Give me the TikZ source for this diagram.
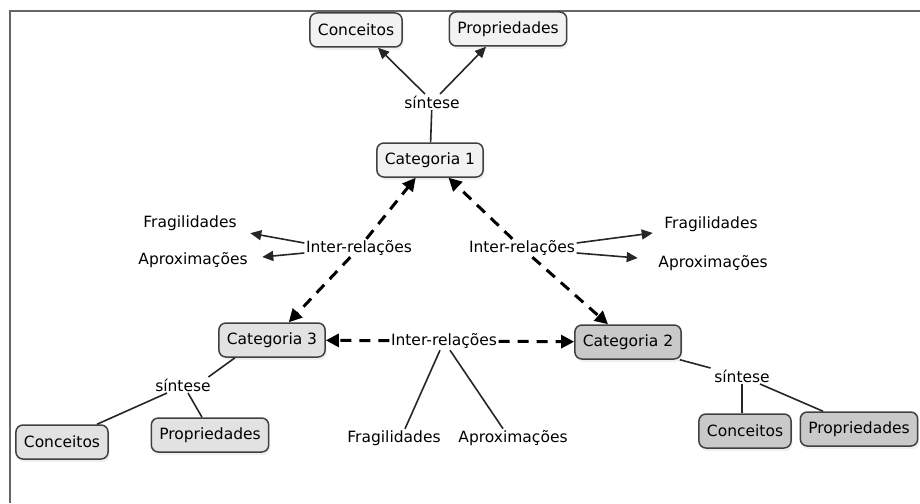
\documentclass[tikz,border=0pt]{standalone}
\usepackage{fontspec}
\setmainfont{DejaVu Sans}
\usetikzlibrary{arrows.meta,shadows}
\definecolor{fillA}{HTML}{F2F2F2}
\definecolor{fillB}{HTML}{E2E2E2}
\definecolor{fillC}{HTML}{C9C9C9}
\definecolor{edgeC}{HTML}{404040}
\definecolor{frameC}{HTML}{666666}
\tikzset{
  box/.style={draw=edgeC, line width=1.5pt, rounded corners=7pt, inner xsep=8pt,
    minimum height=34pt, font=\fontsize{15.5}{18}\selectfont,
    drop shadow={opacity=0.12, shadow xshift=1.5pt, shadow yshift=-3pt}},
  lbl/.style={inner sep=1.5pt, font=\fontsize{15.5}{18}\selectfont},
  link/.style={line width=1.6pt, draw=black!85},
  arr/.style={link, -{Triangle[length=11pt,width=10pt]}},
  dasharr/.style={line width=3pt, dash pattern=on 11pt off 8pt,
    -{Triangle[length=13pt,width=13pt]}},
}
\begin{document}
\begin{tikzpicture}[x=1pt,y=-1pt]
\useasboundingbox (0,0) rectangle (920,503);
% frame
\draw[frameC, line width=2pt] (9.5,503) -- (9.5,11) -- (920,11);

% top
\node[box, fill=fillA] (ct) at (356,30) {Conceitos};
\node[box, fill=fillA] (pt) at (508,29) {Propriedades};
\node[lbl] (st) at (432,102) {síntese};
\node[box, fill=fillA] (c1) at (430,160) {Categoria 1};

% categories
\node[box, fill=fillB] (c3) at (272,340) {Categoria 3};
\node[box, fill=fillC] (c2) at (628,342) {Categoria 2};

% linking phrases
\node[lbl] (il) at (359,248) {Inter-relações};
\node[lbl] (ir) at (522,248) {Inter-relações};
\node[lbl] (ib) at (444,341) {Inter-relações};

\node[lbl] (fl) at (190,223) {Fragilidades};
\node[lbl] (al) at (193,260) {Aproximações};
\node[lbl] (fr) at (711,224) {Fragilidades};
\node[lbl] (ar) at (713,263) {Aproximações};
\node[lbl] (fb) at (394,438) {Fragilidades};
\node[lbl] (ab) at (513,438) {Aproximações};

% bottom-left synthesis
\node[lbl] (s3) at (183,385) {síntese};
\node[box, fill=fillB] (cb3) at (62,442) {Conceitos};
\node[box, fill=fillB] (pb3) at (210,435) {Propriedades};

% bottom-right synthesis
\node[lbl] (s2) at (742,376) {síntese};
\node[box, fill=fillC] (cb2) at (745,431) {Conceitos};
\node[box, fill=fillC] (pb2) at (859,429) {Propriedades};

% top connectors
\draw[link] (st) -- (c1);
\draw[arr] ([xshift=-7pt]st.north) -- ([xshift=22pt]ct.south);
\draw[arr] ([xshift=8pt]st.north) -- ([xshift=-22pt]pt.south);

% dashed inter-relations
\draw[dasharr] (il) -- (c1);
\draw[dasharr] (il) -- (c3);
\draw[dasharr] (ir) -- (c1);
\draw[dasharr] (ir) -- (c2);
\draw[dasharr] (ib) -- (c3);
\draw[dasharr] (ib) -- (c2);

% left inter-relations arrows
\draw[arr] ([yshift=5pt]il.west) -- ([xshift=12pt,yshift=-1pt]fl.south east);
\draw[arr] ([yshift=-5pt]il.west) -- ([xshift=13pt,yshift=3pt]al.east);
% right inter-relations arrows
\draw[arr] ([yshift=5pt]ir.east) -- ([xshift=-10pt,yshift=-9pt]fr.west);
\draw[arr] ([yshift=-5pt]ir.east) -- ([xshift=-19pt,yshift=5pt]ar.west);
% bottom inter-relations lines
\draw[link] ([xshift=-4pt]ib.south) -- ([xshift=11pt]fb.north);
\draw[link] ([xshift=6pt]ib.south) -- ([xshift=-10pt]ab.north);

% bottom-left synthesis lines
\draw[link] ([xshift=-37pt]c3.south) -- ([xshift=-4pt]s3.north east);
\draw[link] ([xshift=-16pt]s3.south) -- ([xshift=35pt]cb3.north);
\draw[link] ([xshift=5pt]s3.south) -- ([xshift=-8pt]pb3.north);

% bottom-right synthesis lines
\draw[link] ([xshift=-2pt]c2.south east) -- ([xshift=-2pt]s2.north west);
\draw[link] (s2.south) -- (s2.south |- cb2.north);
\draw[link] ([xshift=18pt]s2.south) -- ([xshift=-36pt]pb2.north);
\end{tikzpicture}
\end{document}
